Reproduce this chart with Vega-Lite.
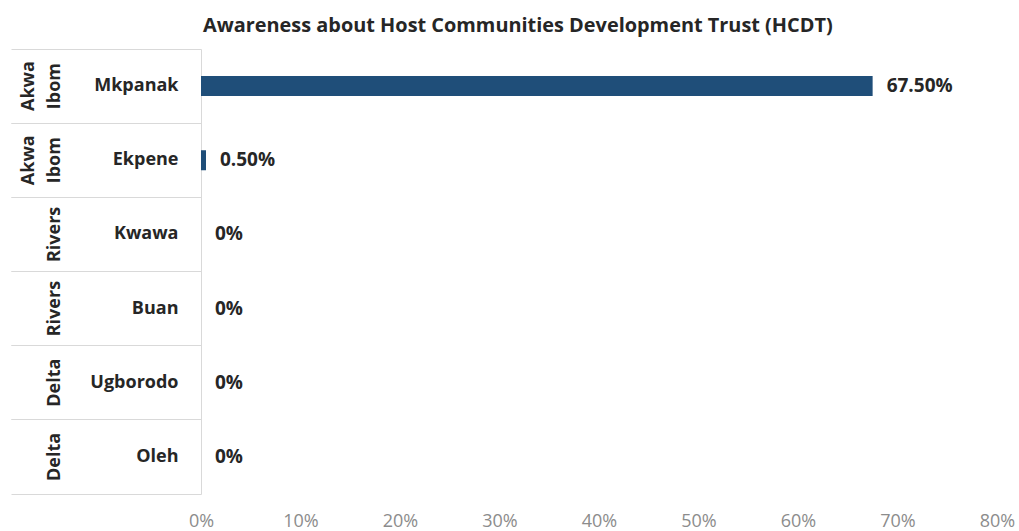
{
  "$schema": "https://vega.github.io/schema/vega-lite/v6.json",
  "width": 796,
  "height": 445,
  "autosize": {"type": "none"},
  "padding": {"left": 201, "top": 49, "right": 22, "bottom": 37},
  "background": "white",
  "title": {
    "text": "Awareness about Host Communities Development Trust (HCDT)",
    "anchor": "start",
    "frame": "group",
    "dx": 2,
    "offset": 13,
    "font": "Open Sans",
    "fontSize": 19.9,
    "fontWeight": "bold",
    "color": "#262626"
  },
  "config": {
    "view": {"stroke": null},
    "font": "Open Sans"
  },
  "data": {
    "values": [
      {"state": "Akwa Ibom", "community": "Mkpanak", "pct": 67.5},
      {"state": "Akwa Ibom", "community": "Ekpene", "pct": 0.5},
      {"state": "Rivers", "community": "Kwawa", "pct": 0},
      {"state": "Rivers", "community": "Buan", "pct": 0},
      {"state": "Delta", "community": "Ugborodo", "pct": 0},
      {"state": "Delta", "community": "Oleh", "pct": 0}
    ]
  },
  "transform": [
    {"calculate": "datum.state + '|' + datum.community", "as": "key"},
    {"calculate": "datum.pct == 0 ? '0%' : format(datum.pct / 100, '.2%')", "as": "label"}
  ],
  "layer": [
    {
      "mark": {"type": "bar", "color": "#1f4e79", "height": {"band": 0.27}},
      "encoding": {
        "y": {
          "field": "key",
          "type": "nominal",
          "sort": null,
          "scale": {"paddingInner": 0, "paddingOuter": 0},
          "axis": {
            "title": null,
            "orient": "left",
            "bandPosition": 0,
            "ticks": true,
            "tickSize": 190,
            "tickColor": "#d9d9d9",
            "tickWidth": 1,
            "domain": true,
            "domainColor": "#d9d9d9",
            "labelExpr": "split(datum.value, '|')[1]",
            "labelPadding": -167,
            "labelAlign": "right",
            "labelBaseline": "middle",
            "labelFont": "Open Sans",
            "labelFontSize": 18,
            "labelFontWeight": "bold",
            "labelColor": "#262626",
            "grid": false
          }
        },
        "x": {
          "field": "pct",
          "type": "quantitative",
          "scale": {"domain": [0, 80], "nice": false},
          "axis": {
            "title": null,
            "values": [0, 10, 20, 30, 40, 50, 60, 70, 80],
            "labelExpr": "datum.value + '%'",
            "domain": false,
            "ticks": false,
            "grid": false,
            "labelPadding": 18,
            "labelFont": "Open Sans",
            "labelFontSize": 18,
            "labelColor": "#8c8c8c",
            "labelFlush": false
          }
        }
      }
    },
    {
      "mark": {"type": "text", "align": "left", "baseline": "middle", "dx": 14, "font": "Open Sans", "fontSize": 19, "fontWeight": "bold", "color": "#262626"},
      "encoding": {
        "y": {
          "field": "key",
          "type": "nominal",
          "sort": null,
          "axis": {
            "title": null,
            "orient": "left",
            "bandPosition": 1,
            "ticks": true,
            "tickSize": 190,
            "tickColor": "#d9d9d9",
            "tickWidth": 1,
            "domain": false,
            "labelExpr": "length(split(split(datum.value, '|')[0], ' ')) > 1 ? split(split(datum.value, '|')[0], ' ') : ['', split(datum.value, '|')[0]]",
            "labelAngle": 270,
            "labelAlign": "center",
            "labelBaseline": "bottom",
            "labelPadding": -26,
            "labelFont": "Open Sans",
            "labelFontSize": 18,
            "labelFontWeight": "bold",
            "labelColor": "#262626",
            "labelLineHeight": 26,
            "grid": false
          }
        },
        "x": {"field": "pct", "type": "quantitative"},
        "text": {"field": "label"}
      }
    }
  ],
  "resolve": {"axis": {"y": "independent"}}
}
